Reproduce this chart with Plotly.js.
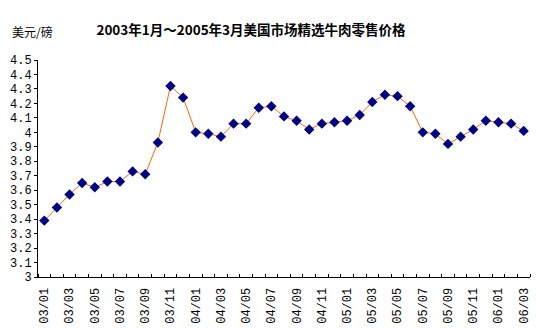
<!DOCTYPE html>
<html>
<head>
<meta charset="utf-8">
<script src="https://cdn.plot.ly/plotly-3.0.1.min.js"></script>
<style>html,body{margin:0;padding:0;background:#fff;}#chart{width:536px;height:329px;}</style>
</head>
<body>
<div id="chart"></div>
<script>
var months = ["03/01","03/02","03/03","03/04","03/05","03/06","03/07","03/08","03/09","03/10","03/11","03/12",
              "04/01","04/02","04/03","04/04","04/05","04/06","04/07","04/08","04/09","04/10","04/11","04/12",
              "05/01","05/02","05/03","05/04","05/05","05/06","05/07","05/08","05/09","05/10","05/11","05/12",
              "06/01","06/02","06/03"];
var prices = [3.39,3.48,3.57,3.65,3.62,3.66,3.66,3.73,3.71,3.93,4.32,4.24,
              4.00,3.99,3.97,4.06,4.06,4.17,4.18,4.11,4.08,4.02,4.06,4.07,
              4.08,4.12,4.21,4.26,4.25,4.18,4.00,3.99,3.92,3.97,4.02,4.08,
              4.07,4.06,4.01];
var titleText = "2003年1月～2005年3月美国市场精选牛肉零售价格";
var unitText = "美元/磅";

var xIdx = months.map(function(_, i){ return i; });
var tickVals = xIdx.filter(function(i){ return i % 2 === 0; });
var tickText = tickVals.map(function(i){ return months[i]; });

var monoFont = {family: "Liberation Mono, DejaVu Sans Mono, monospace", size: 12, color: "#000"};

var trace = {
  x: xIdx, y: prices, type: "scatter", mode: "lines+markers",
  line: {color: "#FF6600", width: 1},
  marker: {symbol: "diamond", size: 8, color: "#000080"},
  hoverinfo: "skip"
};

var layout = {
  width: 536, height: 329,
  margin: {l: 38, r: 6, t: 60, b: 52, pad: 0},
  paper_bgcolor: "#fff", plot_bgcolor: "#fff",
  showlegend: false,
  title: {
    text: "<b>" + titleText + "</b>",
    xref: "container", yref: "container",
    x: 251/536, xanchor: "center", y: 1 - 30/329, yanchor: "middle",
    font: {family: "Noto Sans CJK SC", size: 13.5, color: "#000"}
  },
  xaxis: {
    range: [-0.5, 38.5], tickmode: "array", tickvals: tickVals, ticktext: tickText,
    tickangle: -90, showline: true, linecolor: "#000", linewidth: 1,
    ticks: "", ticklabelstandoff: 5, showgrid: false, zeroline: false, tickfont: monoFont,
    minor: {tickmode: "linear", tick0: -0.5, dtick: 1, ticks: "inside", ticklen: 3, tickcolor: "#000", showgrid: false}
  },
  yaxis: {
    range: [3, 4.5], tickmode: "linear", tick0: 3, dtick: 0.1,
    ticks: "outside", ticklen: 3, tickcolor: "#000",
    showline: true, linecolor: "#000", linewidth: 1,
    showgrid: false, zeroline: false, tickfont: monoFont
  },
  annotations: [{
    text: unitText, xref: "paper", yref: "paper",
    x: (10 - 38) / 492, xanchor: "left", y: (277 - 32) / 217, yanchor: "middle",
    showarrow: false, font: {family: "Noto Sans CJK SC", size: 12, color: "#000"}
  }]
};

Plotly.newPlot("chart", [trace], layout, {staticPlot: true});
</script>
</body>
</html>
